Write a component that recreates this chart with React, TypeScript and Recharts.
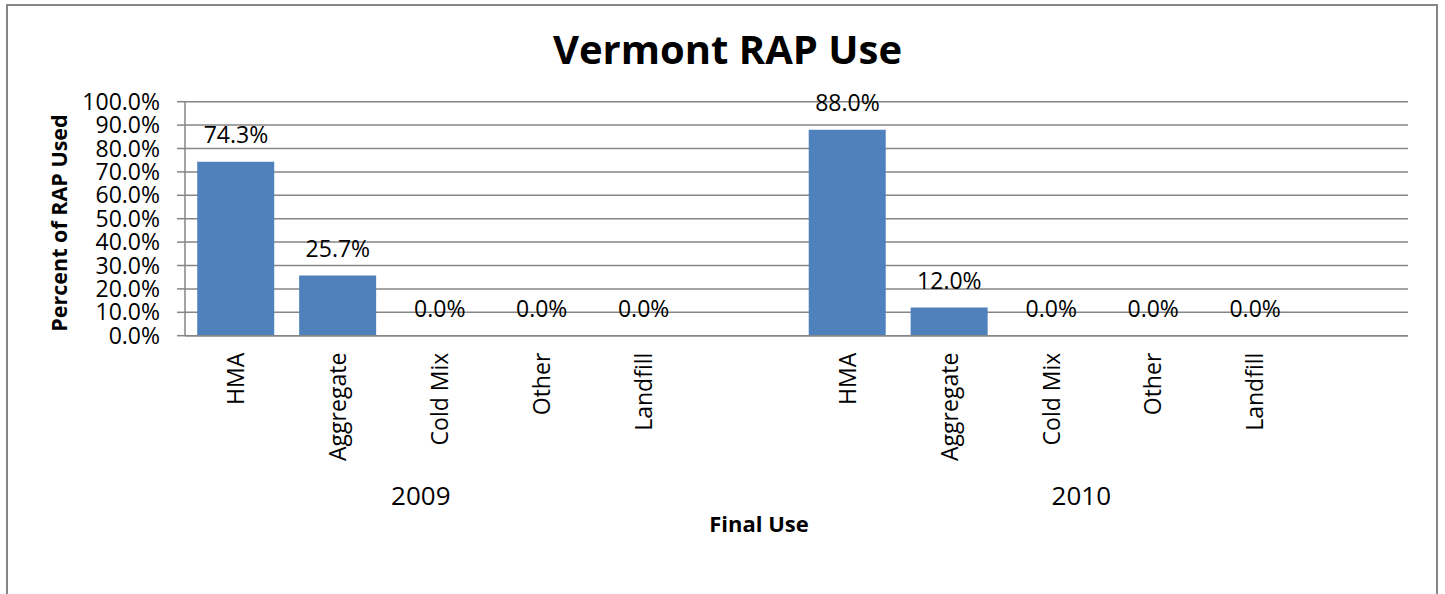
import React from 'react';
import { ComposedChart, Bar, Line, XAxis, YAxis, CartesianGrid, LabelList } from 'recharts';

const uses = ['HMA', 'Aggregate', 'Cold Mix', 'Other', 'Landfill'];
const years = ['2009', '2010'];
const share2009 = [74.3, 25.7, 0.0, 0.0, 0.0];
const share2010 = [88.0, 12.0, 0.0, 0.0, 0.0];
const yTicks = [0, 10, 20, 30, 40, 50, 60, 70, 80, 90, 100];

// each year group is followed by an empty slot, like the source sheet
const rows: { use: string; value: number | null; year: string }[] = [];
[share2009, share2010].forEach((vals, g) => {
  uses.forEach((u, i) => rows.push({ use: u, value: vals[i], year: i === 2 ? years[g] : '' }));
  rows.push({ use: '', value: null, year: '' });
});

const FONT = '"Open Sans", "Liberation Sans", sans-serif';
const GRID = '#868686';
const yearDx: Record<string, number> = { '2009': -19, '2010': 30 };

const CategoryTick = (props: any) => {
  const { x, y, index } = props;
  const row = rows[index];
  if (!row) return null;
  return (
    <g>
      {row.use && (
        <text
          x={x}
          y={y + 17}
          dy="0.36em"
          transform={`rotate(-90, ${x}, ${y + 17})`}
          textAnchor="end"
          fontFamily={FONT}
          fontSize={23}
          fill="#000"
        >
          {row.use}
        </text>
      )}
      {row.year && (
        <text x={x + yearDx[row.year]} y={y + 169} textAnchor="middle" fontFamily={FONT} fontSize={26} fill="#000">
          {row.year}
        </text>
      )}
    </g>
  );
};

const pct = (v: any) => (v === null || v === undefined ? '' : `${Number(v).toFixed(1)}%`);

export default function App() {
  return (
    <div style={{ position: 'absolute', left: 0, top: 0, width: 1445, height: 594, overflow: 'hidden', background: '#fff' }}>
      <div
        style={{
          position: 'absolute', left: 6, top: 4, width: 1432, height: 620,
          border: `2px solid ${GRID}`, boxSizing: 'border-box',
        }}
      />
      <ComposedChart
        width={1445}
        height={594}
        data={rows}
        margin={{ top: 101.7, right: 37, bottom: 58.3, left: 85 }}
        barCategoryGap="12%"
        style={{ position: 'absolute', left: 0, top: 0 }}
      >
        <CartesianGrid horizontal vertical={false} stroke={GRID} strokeWidth={1.5} />
        <XAxis
          dataKey="use"
          interval={0}
          height={200}
          tickSize={0}
          tickMargin={0}
          tickLine={false}
          axisLine={{ stroke: GRID, strokeWidth: 1.5 }}
          tick={<CategoryTick />}
        />
        <YAxis
          width={100}
          domain={[0, 100]}
          ticks={yTicks}
          interval={0}
          tickSize={8}
          tickMargin={17}
          tickLine={{ stroke: GRID, strokeWidth: 1.5 }}
          axisLine={{ stroke: GRID, strokeWidth: 1.5 }}
          tickFormatter={(v: number) => `${v.toFixed(1)}%`}
          tick={{ fontFamily: FONT, fontSize: 23, fill: '#000' }}
        />
        <Bar dataKey="value" fill="#4F81BD" isAnimationActive={false} />
        {/* invisible line carries the data labels so zero bars get one too */}
        <Line
          dataKey="value"
          stroke="none"
          dot={false}
          activeDot={false}
          legendType="none"
          isAnimationActive={false}
        >
          <LabelList
            dataKey="value"
            position="top"
            offset={19}
            fontFamily={FONT}
            fontSize={23}
            fill="#000"
            formatter={pct}
          />
        </Line>
      </ComposedChart>
      <div
        style={{
          position: 'absolute', left: 0, top: 0, width: 1455, textAlign: 'center',
          fontFamily: FONT, fontWeight: 700, fontSize: 40, lineHeight: '40px', paddingTop: 29,
        }}
      >
        Vermont RAP Use
      </div>
      <svg width={1445} height={594} style={{ position: 'absolute', left: 0, top: 0, pointerEvents: 'none' }}>
        <text
          x={67}
          y={223}
          transform="rotate(-90, 67, 223)"
          textAnchor="middle"
          fontFamily={FONT}
          fontWeight={700}
          fontSize={21.5}
          fill="#000"
        >
          Percent of RAP Used
        </text>
        <text x={759} y={532} textAnchor="middle" fontFamily={FONT} fontWeight={700} fontSize={22} fill="#000">
          Final Use
        </text>
      </svg>
    </div>
  );
}
